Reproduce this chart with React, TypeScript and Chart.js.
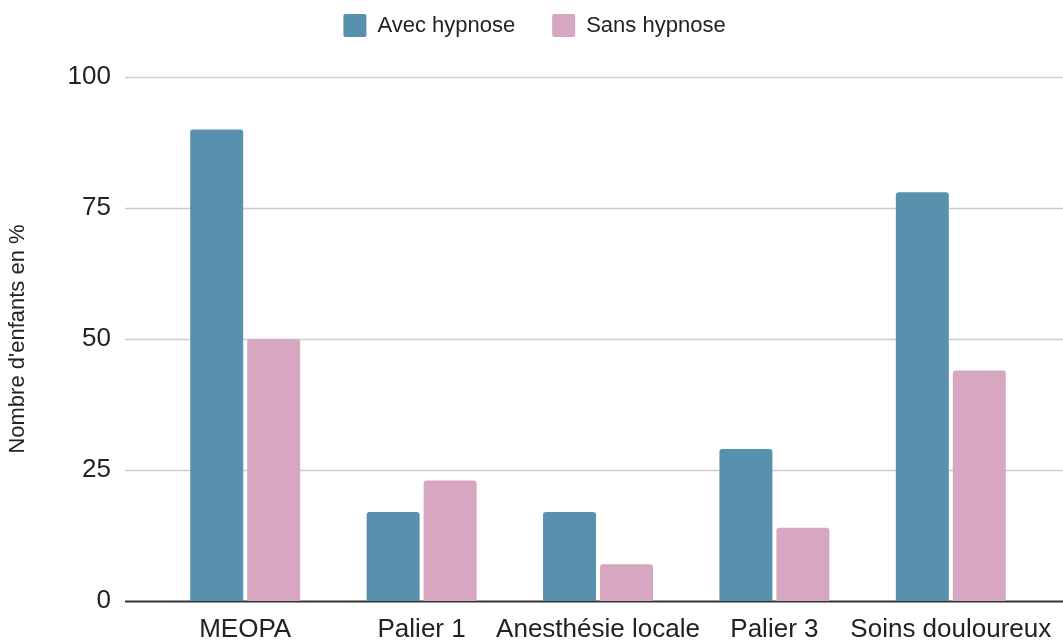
import React, { useEffect, useRef } from "react";
import { Chart, registerables } from "chart.js";

Chart.register(...registerables);

const categories = ["MEOPA", "Palier 1", "Anesthésie locale", "Palier 3", "Soins douloureux"];
const avecHypnose = [90, 17, 17, 29, 78];
const sansHypnose = [50, 23, 7, 14, 44];
const seriesNames = ["Avec hypnose", "Sans hypnose"];
const yTitle = "Nombre d'enfants en %";
const yMax = 100;
const yStep = 25;

const BLUE = "#5891ad";
const PINK = "#d7a6c0";
const FONT = "'Liberation Sans', Arial, sans-serif";

const gridPlugin = {
  id: "wideGrid",
  beforeDatasetsDraw(chart: any) {
    const { ctx } = chart;
    const y = chart.scales.y;
    ctx.save();
    y.ticks.forEach((t: any) => {
      const py = Math.round(y.getPixelForValue(t.value)) + 0.5;
      ctx.beginPath();
      ctx.moveTo(125, py);
      ctx.lineTo(chart.width, py);
      if (t.value === 0) {
        ctx.strokeStyle = "#333333";
        ctx.lineWidth = 2;
      } else {
        ctx.strokeStyle = "#cccccc";
        ctx.lineWidth = 1.5;
      }
      ctx.stroke();
    });
    ctx.restore();
  },
};

export default function App() {
  const ref = useRef<HTMLCanvasElement | null>(null);

  useEffect(() => {
    if (!ref.current) return;
    const chart = new Chart(ref.current, {
      type: "bar",
      data: {
        labels: categories,
        datasets: [
          {
            label: seriesNames[0],
            data: avecHypnose,
            backgroundColor: BLUE,
            borderRadius: 3,
            borderSkipped: "start",
            categoryPercentage: 0.646,
            barPercentage: 0.93,
          },
          {
            label: seriesNames[1],
            data: sansHypnose,
            backgroundColor: PINK,
            borderRadius: 3,
            borderSkipped: "start",
            categoryPercentage: 0.646,
            barPercentage: 0.93,
          },
        ],
      },
      options: {
        animation: false,
        responsive: false,
        devicePixelRatio: 1,
        layout: { padding: { top: -23, left: 0, right: -6, bottom: 0 } },
        plugins: {
          legend: {
            display: true,
            position: "top",
            labels: {
              boxWidth: 23,
              boxHeight: 23,
              padding: 37,
              color: "#222222",
              useBorderRadius: true,
              borderRadius: 2,
              font: { family: FONT, size: 22 },
            },
          },
          title: {
            display: true,
            text: "",
            position: "top",
            weight: 500,
            padding: 0,
            font: { family: FONT, size: 25, lineHeight: 1.2 },
          },
          tooltip: { enabled: false },
        },
        scales: {
          x: {
            offset: true,
            grid: { display: false, drawTicks: false },
            border: { display: false },
            ticks: {
              color: "#222222",
              padding: 13,
              maxRotation: 0,
              autoSkip: false,
              font: { family: FONT, size: 26 },
            },
            afterFit(scale: any) {
              scale.height = 40;
              scale.paddingLeft = 0;
              scale.paddingRight = 24;
            },
          },
          y: {
            min: 0,
            max: yMax,
            grid: { display: false, drawTicks: false },
            border: { display: false },
            ticks: {
              stepSize: yStep,
              color: "#222222",
              padding: 46,
              font: { family: FONT, size: 26 },
            },
            title: {
              display: true,
              text: yTitle,
              color: "#222222",
              padding: { top: 5, bottom: 0 },
              font: { family: FONT, size: 22 },
            },
            afterFit(scale: any) {
              scale.width = 157;
              scale.paddingBottom = 0;
            },
          },
        },
      },
      plugins: [gridPlugin],
    });
    return () => chart.destroy();
  }, []);

  return (
    <div style={{ position: "fixed", left: 0, top: 0, width: 1063, height: 641, background: "#fff" }}>
      <canvas ref={ref} width={1063} height={641} style={{ display: "block" }} />
    </div>
  );
}
